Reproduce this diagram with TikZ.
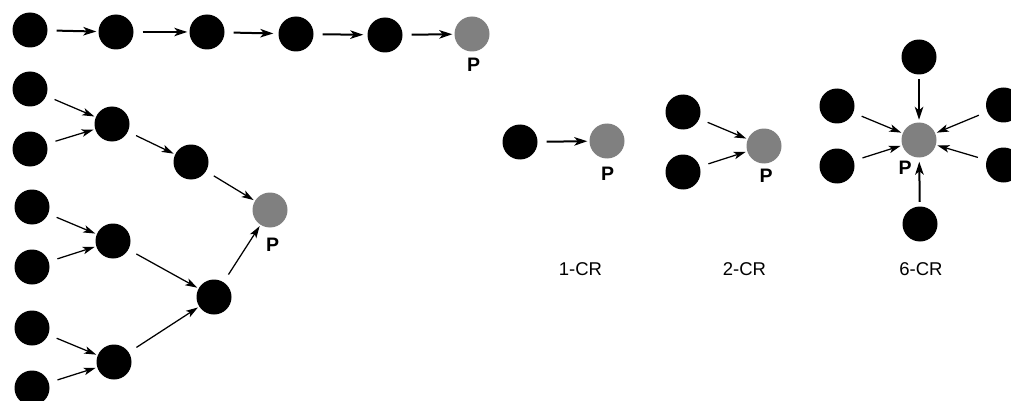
\documentclass[tikz,border=0pt]{standalone}
\usepackage{fontspec}
\setmainfont{Liberation Sans}
\usetikzlibrary{arrows.meta}
\tikzset{
  blk/.style={circle,fill=black,minimum size=35pt,inner sep=0pt},
  prod/.style={circle,fill=gray,minimum size=35pt,inner sep=0pt},
  plab/.style={font=\fontsize{19.5}{19.5}\selectfont\bfseries,inner sep=0pt},
  crlab/.style={font=\fontsize{18.5}{18.5}\selectfont,inner sep=0pt},
  thick arr/.style={line width=2pt,-{Stealth[length=13pt,width=8.5pt,inset=3.5pt]},shorten <=9pt,shorten >=2pt},
  thin arr/.style={line width=1.25pt,-{Stealth[length=12pt,width=7.5pt,inset=3pt]},shorten <=9pt,shorten >=1.5pt},
}
\begin{document}
\begin{tikzpicture}[x=1pt,y=-1pt]
\useasboundingbox (0,0) rectangle (1011,401);
% top chain
\node[blk] (c1) at (30,30) {};
\node[blk] (c2) at (116,32) {};
\node[blk] (c3) at (207,32) {};
\node[blk] (c4) at (296,34) {};
\node[blk] (c5) at (385,35) {};
\node[prod] (p1) at (472,34) {};
\node[plab] (lp1) at (473.5,65) {P};
\draw[thick arr] (c1) -- (c2);
\draw[thick arr] (c2) -- (c3);
\draw[thick arr,shorten >=5pt] (c3) -- (c4);
\draw[thick arr,shorten >=4pt] (c4) -- (c5);
\draw[thick arr] (c5) -- (p1);
% tree
\node[blk] (l1) at (30,89) {};
\node[blk] (l2) at (30,149) {};
\node[blk] (l3) at (32,207) {};
\node[blk] (l4) at (32,267) {};
\node[blk] (l5) at (32,328) {};
\node[blk] (l6) at (32,388) {};
\node[blk] (m1) at (112,124) {};
\node[blk] (m2) at (191,162) {};
\node[blk] (m3) at (113,241) {};
\node[blk] (m4) at (114,362) {};
\node[blk] (n1) at (214,297) {};
\node[prod] (p2) at (270,210) {};
\node[plab] (lp2) at (272.5,245) {P};
\draw[thin arr] (l1) -- (m1);
\draw[thin arr] (l2) -- (m1);
\draw[thin arr] (m1) -- (m2);
\draw[thin arr] (m2) -- (p2);
\draw[thin arr] (l3) -- (m3);
\draw[thin arr] (l4) -- (m3);
\draw[thin arr] (m3) -- (n1);
\draw[thin arr] (l5) -- (m4);
\draw[thin arr] (l6) -- (m4);
\draw[thin arr] (m4) -- (n1);
\draw[thin arr] (n1) -- (p2);
% 1-CR
\node[blk] (a1) at (520,142) {};
\node[prod] (pa) at (607,141) {};
\node[plab] (lpa) at (607.5,173.5) {P};
\draw[thick arr] (a1) -- (pa);
\node[crlab] (cr1) at (580.5,269) {1-CR};
% 2-CR
\node[blk] (b1) at (683,112) {};
\node[blk] (b2) at (683,172) {};
\node[prod] (pb) at (764,146) {};
\node[plab] (lpb) at (766,176) {P};
\draw[thin arr] (b1) -- (pb);
\draw[thin arr] (b2) -- (pb);
\node[crlab] (cr2) at (744.5,269) {2-CR};
% 6-CR
\node[prod] (pc) at (919,140) {};
\node[blk] (d1) at (919,57) {};
\node[blk] (d2) at (920,224) {};
\node[blk] (d3) at (837,106) {};
\node[blk] (d4) at (837,166) {};
\node[blk] (d5) at (1003.5,105) {};
\node[blk] (d6) at (1003.5,165) {};
\node[plab] (lpc) at (905,167.5) {P};
\draw[thick arr,shorten <=4.5pt,shorten >=2.5pt] (d1) -- (pc);
\draw[thick arr,shorten <=4.5pt,shorten >=4pt] (d2) -- (pc);
\draw[thin arr] (d3) -- (pc);
\draw[thin arr] (d4) -- (pc);
\draw[thin arr] (d5) -- (pc);
\draw[thin arr] (d6) -- (pc);
\node[crlab] (cr6) at (921,269) {6-CR};
\end{tikzpicture}
\end{document}
